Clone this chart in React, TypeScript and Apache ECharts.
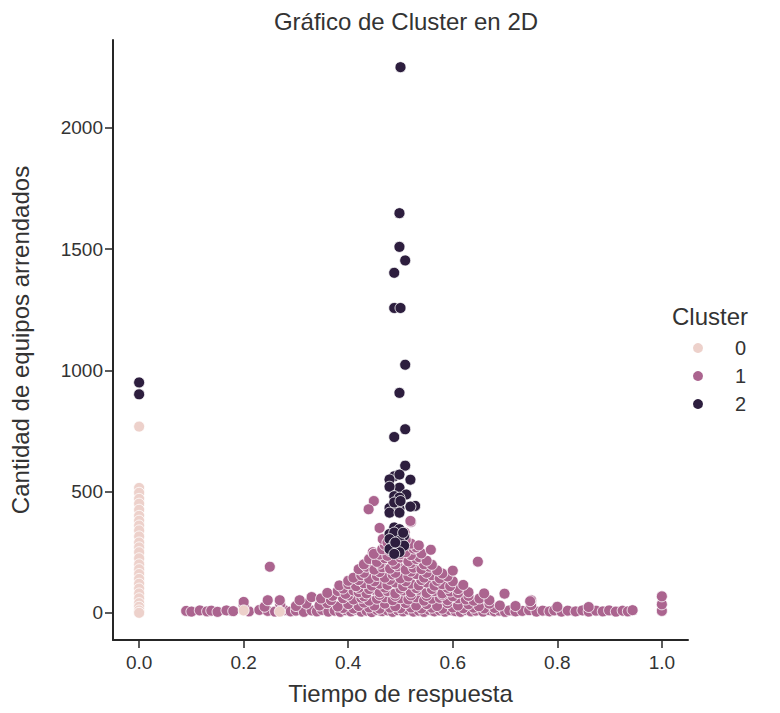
import React, { useEffect, useRef } from "react";
import * as echarts from "echarts";

// Cluster colours (cubehelix, light → dark)
const clusterNames = ["0", "1", "2"];
const clusterColors = ["#edd1cb", "#ab648f", "#2d1e3e"];

const xTicks = [0, 0.2, 0.4, 0.6, 0.8, 1.0];
const yTicks = [0, 500, 1000, 1500, 2000];

// Cluster 0: [tiempo de respuesta, cantidad de equipos]
const cluster0: number[][] = [
  [0, 768], [0, 515], [0, 495], [0, 470], [0, 450], [0, 425], [0, 400], [0, 380],
  [0, 360], [0, 340], [0, 315], [0, 290], [0, 270], [0, 250], [0, 225], [0, 200],
  [0, 180], [0, 160], [0, 140], [0, 120], [0, 100], [0, 80], [0, 60], [0, 40],
  [0, 25], [0, 10], [0, 0], [0.2, 10], [0.269, 5],
];

// Cluster 1
const cluster1: number[][] = [
  // bottom row
  [0.09, 8], [0.1, 5], [0.116, 10], [0.13, 6], [0.138, 9], [0.15, 4], [0.167, 10], [0.18, 7],
  [0.21, 6], [0.23, 12], [0.246, 8], [0.26, 5], [0.278, 11], [0.29, 6], [0.3, 9], [0.315, 4],
  [0.33, 10], [0.34, 6], [0.35, 12], [0.362, 5], [0.374, 9], [0.385, 4], [0.395, 11], [0.405, 6],
  [0.415, 13], [0.425, 5], [0.435, 9], [0.445, 3], [0.455, 12], [0.465, 7], [0.475, 10], [0.485, 4],
  [0.495, 11], [0.505, 6], [0.515, 13], [0.525, 5], [0.535, 9], [0.545, 4], [0.555, 12], [0.565, 6],
  [0.575, 10], [0.585, 5], [0.595, 11], [0.605, 7], [0.615, 4], [0.625, 12], [0.635, 6], [0.644, 9],
  [0.658, 5], [0.67, 11], [0.68, 6], [0.689, 9], [0.7, 4], [0.708, 10], [0.72, 6], [0.733, 8],
  [0.746, 11], [0.76, 5], [0.772, 9], [0.785, 6], [0.794, 10], [0.808, 5], [0.82, 9], [0.835, 6],
  [0.848, 10], [0.86, 5], [0.874, 9], [0.887, 6], [0.899, 10], [0.912, 5], [0.925, 9], [0.935, 6],
  [0.944, 11], [1.0, 8], [1.0, 35], [1.0, 68],
  // low rows
  [0.39, 20], [0.41, 18], [0.44, 22], [0.46, 17], [0.48, 21], [0.5, 19], [0.52, 22], [0.54, 18],
  [0.56, 21], [0.58, 17], [0.6, 22], [0.62, 19], [0.64, 21], [0.66, 18], [0.68, 20],
  [0.2, 30], [0.24, 25], [0.27, 35], [0.3, 28], [0.32, 38], [0.345, 30], [0.36, 40], [0.38, 26],
  [0.4, 36], [0.42, 28], [0.43, 42], [0.45, 30], [0.47, 38], [0.49, 27], [0.51, 40], [0.53, 30],
  [0.55, 36], [0.57, 28], [0.59, 40], [0.61, 30], [0.63, 35], [0.65, 27], [0.67, 38], [0.69, 30],
  [0.72, 28], [0.75, 32], [0.8, 25], [0.86, 24],
  [0.2, 45], [0.246, 52], [0.269, 52], [0.307, 52], [0.33, 65], [0.348, 59], [0.367, 52], [0.39, 60],
  [0.41, 55], [0.425, 62], [0.44, 50], [0.455, 58], [0.47, 64], [0.485, 52], [0.5, 60], [0.515, 55],
  [0.53, 64], [0.545, 50], [0.56, 58], [0.575, 62], [0.59, 52], [0.61, 60], [0.625, 55], [0.64, 50],
  [0.651, 59], [0.67, 52], [0.699, 79], [0.75, 52], [0.748, 48],
  [0.37, 70], [0.4, 72], [0.43, 68], [0.46, 74], [0.49, 70], [0.52, 72], [0.55, 70], [0.58, 74],
  [0.6, 68], [0.63, 70],
  // rising bell
  [0.36, 82], [0.38, 90], [0.395, 78], [0.41, 92], [0.42, 85], [0.435, 80], [0.45, 95], [0.46, 85],
  [0.475, 90], [0.49, 80], [0.505, 92], [0.52, 84], [0.535, 95], [0.55, 82], [0.565, 90], [0.58, 80],
  [0.595, 88], [0.61, 82], [0.63, 85], [0.66, 80],
  [0.39, 100], [0.42, 103], [0.44, 98], [0.47, 104], [0.5, 100], [0.53, 102], [0.56, 98], [0.59, 103],
  [0.61, 98],
  [0.383, 113], [0.4, 118], [0.415, 110], [0.43, 122], [0.445, 112], [0.46, 120], [0.475, 115], [0.49, 125],
  [0.505, 110], [0.52, 120], [0.535, 113], [0.55, 125], [0.565, 112], [0.58, 118], [0.595, 110], [0.62, 115],
  [0.4, 132], [0.42, 135], [0.45, 130], [0.48, 136], [0.51, 130], [0.54, 135], [0.57, 132], [0.6, 130],
  [0.41, 145], [0.425, 155], [0.44, 140], [0.455, 152], [0.47, 145], [0.485, 158], [0.5, 142], [0.515, 150],
  [0.53, 160], [0.545, 145], [0.56, 155], [0.575, 142], [0.59, 150],
  [0.43, 165], [0.46, 168], [0.49, 165], [0.52, 170], [0.55, 165], [0.58, 162],
  [0.42, 180], [0.435, 190], [0.45, 178], [0.465, 188], [0.48, 182], [0.495, 192], [0.51, 178], [0.525, 186],
  [0.54, 180], [0.555, 190], [0.57, 175], [0.6, 174],
  [0.43, 200], [0.46, 203], [0.49, 200], [0.52, 205], [0.545, 200], [0.56, 198],
  [0.44, 222], [0.455, 210], [0.47, 225], [0.485, 215], [0.5, 228], [0.515, 212], [0.53, 222], [0.536, 229],
  [0.55, 215], [0.648, 211],
  [0.46, 240], [0.475, 235], [0.5, 242], [0.52, 238], [0.54, 245],
  [0.447, 250], [0.449, 243], [0.465, 262], [0.48, 255], [0.51, 250], [0.525, 265], [0.53, 270], [0.558, 260],
  [0.47, 280], [0.5, 275], [0.52, 285], [0.535, 278],
  [0.25, 190],
  [0.466, 304], [0.475, 290], [0.508, 331], [0.52, 375], [0.519, 379], [0.51, 300], [0.49, 320], [0.449, 461],
  [0.439, 427], [0.46, 350],
];

// Cluster 2
const cluster2: number[][] = [
  [0, 950], [0, 901],
  [0.5, 2250], [0.498, 1648], [0.498, 1509], [0.509, 1453], [0.488, 1402], [0.488, 1257], [0.5, 1257],
  [0.509, 1023], [0.498, 907], [0.509, 757], [0.488, 725], [0.509, 607], [0.488, 563], [0.479, 550],
  [0.498, 570], [0.519, 549], [0.498, 516], [0.479, 520], [0.511, 488], [0.488, 481], [0.498, 475],
  [0.528, 441], [0.479, 432], [0.498, 430], [0.488, 455], [0.5, 461], [0.519, 438], [0.479, 413],
  [0.498, 413], [0.488, 352], [0.479, 325], [0.498, 345], [0.488, 331], [0.507, 318], [0.479, 304],
  [0.498, 297], [0.488, 284], [0.507, 277], [0.479, 263], [0.498, 250], [0.488, 243], [0.505, 330],
  [0.49, 290],
];

const FONT = "'Liberation Sans', Arial, sans-serif";
const TEXT = "#333333";
const AXIS = "#262626";

export default function App() {
  const ref = useRef<HTMLDivElement>(null);

  useEffect(() => {
    document.body.style.margin = "0";
    if (!ref.current) return;
    const chart = echarts.init(ref.current, null, { renderer: "svg" });

    const scatter = (idx: number, data: number[][]) => ({
      name: clusterNames[idx],
      type: "scatter",
      data,
      symbol: "circle",
      symbolSize: 11,
      itemStyle: {
        color: clusterColors[idx],
        borderColor: "#ffffff",
        borderWidth: 0.8,
        opacity: 1,
      },
      emphasis: { disabled: true },
    });

    chart.setOption({
      animation: false,
      textStyle: { fontFamily: FONT },
      title: [
        {
          text: "Gráfico de Cluster en 2D",
          left: 401,
          top: 4,
          textAlign: "center",
          textStyle: { fontFamily: FONT, fontSize: 24, fontWeight: "normal", color: TEXT },
        },
        {
          text: "Cluster",
          left: 667,
          top: 299,
          textStyle: { fontFamily: FONT, fontSize: 24, fontWeight: "normal", color: TEXT },
        },
      ],
      legend: {
        data: clusterNames,
        orient: "vertical",
        left: 686,
        top: 333,
        itemGap: 8,
        icon: "circle",
        itemWidth: 12,
        itemHeight: 12,
        selectedMode: false,
        textStyle: { fontFamily: FONT, fontSize: 20, color: TEXT, padding: [0, 0, 0, 26] },
      },
      grid: {
        left: 113,
        top: 40,
        right: 92,
        bottom: 73,
        containLabel: false,
        outerBoundsMode: "none",
      },
      xAxis: {
        type: "value",
        min: -0.05,
        max: 1.05,
        name: "Tiempo de respuesta",
        nameLocation: "middle",
        nameGap: 41,
        nameTextStyle: { fontFamily: FONT, fontSize: 24, color: TEXT },
        axisLine: { show: true, onZero: false, lineStyle: { color: AXIS, width: 2 } },
        axisTick: { show: true, length: 8, lineStyle: { color: AXIS, width: 1.5 }, customValues: xTicks },
        axisLabel: {
          fontFamily: FONT,
          fontSize: 19,
          color: TEXT,
          margin: 13,
          customValues: xTicks,
          formatter: (v: number) => v.toFixed(1),
        },
        splitLine: { show: false },
      },
      yAxis: {
        type: "value",
        min: -112,
        max: 2362,
        name: "Cantidad de equipos arrendados",
        nameLocation: "middle",
        nameGap: 81,
        nameRotate: 90,
        nameTextStyle: { fontFamily: FONT, fontSize: 24, color: TEXT },
        axisLine: { show: true, onZero: false, lineStyle: { color: AXIS, width: 2 } },
        axisTick: { show: true, length: 8, lineStyle: { color: AXIS, width: 1.5 }, customValues: yTicks },
        axisLabel: {
          fontFamily: FONT,
          fontSize: 19,
          color: TEXT,
          margin: 10,
          customValues: yTicks,
          formatter: (v: number) => String(v),
        },
        splitLine: { show: false },
      },
      series: [scatter(1, cluster1), scatter(2, cluster2), scatter(0, cluster0)],
    });

    return () => chart.dispose();
  }, []);

  return <div ref={ref} style={{ width: 780, height: 713 }} />;
}
